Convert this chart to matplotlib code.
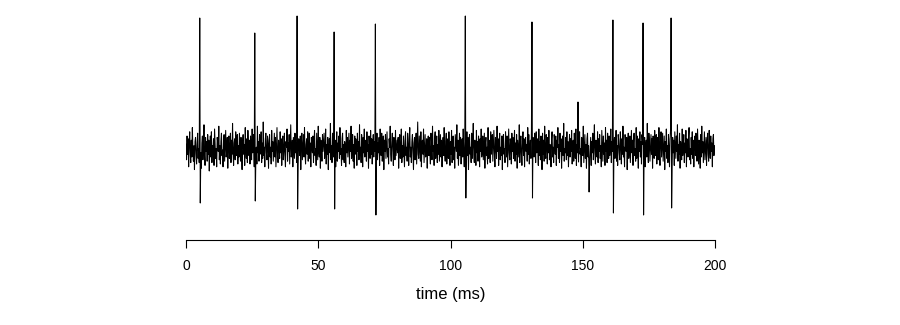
import matplotlib
matplotlib.use("Agg")
import matplotlib.pyplot as plt
import numpy as np

plt.rcParams['font.family'] = ['Liberation Sans', 'DejaVu Sans']

# sampling step of the trace (ms)
dt = 0.2
# noise below is written in small units; this converts it to the spike units
noise_scale = 1.4

# background noise, one value per sample
noise = [
    4, -7, 10, -3, 8, -12, 5, 13, -2, -9, 7, -5, 16, 1, -8, 3, -14, 6, 9, -3,
    -10, 4, 12, -6, 1, -9, 14, 8, -2, -13, 5, 10, -7, 2, 18, -4, -11, 9, -1, 6,
    -8, 11, -3, 7, -15, 2, 10, -5, 13, -9, 3, -2, 8, -11, 15, 4, -6, 1, -12, 9,
    5, -1, 17, -7, 3, -10, 6, 12, -4, 0, -12, 7, 11, -8, 3, 14, -5, -1, 9, -13,
    4, 10, -6, 2, 12, -9, 7, -3, 19, -2, -11, 5, 8, -7, 13, 1, -4, 11, -10, 3,
    -5, 12, 2, -8, 9, -1, -14, 6, 11, -3, 4, -11, 16, 0, -6, 8, -9, 14, 2, -4,
    7, -10, 10, 3, -7, 15, -2, -1, 11, -12, 5, 9, -5, 2, -10, 17, -2, 6, -8, 11,
    -3, 1, 13, -9, 5, -6, 20, -4, 2, -12, 8, 12, -2, -7, 10, 4, -13, 7, 11, -5,
    2, -10, 14, -1, 6, -8, 3, 12, -5, 9, -12, 1, 16, -3, -9, 7, 2, -6, 13, -2,
    8, -11, 4, 10, -7, 0, 12, -4, -12, 6, 2, 15, -8, 5, -1, 11, -10, 3, 18, -5,
    -1, 7, -12, 9, 2, -6, 12, -2, 5, -9, 14, 1, -11, 8, 3, -4, 10, -14, 6, 12,
    -7, 2, 11, -5, 16, -2, -10, 4, 8, -3, 13, -8, 0, 12, -6, 5, -12, 9, 2, -2,
    10, -9, 6, 14, -4, 1, -11, 12, 3, -7, 17, -1, -5, 9, -13, 7, 2, -8, 11, -1,
    5, 12, -6, 0, 15, -10, 4, -3, 9, -14, 2, 8, -2, 19, -7, 3, -9, 12, 1, -5,
    11, -4, 7, -12, 2, 13, -8, 5, -1, 10, -6, 16, -3, 1, -11, 8, 12, -7, 4, -9,
    6, 1, -12, 14, -2, 9, -5, 3, 12, -10, 7, -1, 17, -6, 0, 11, -8, 4, -13, 10,
    -3, 8, 2, -11, 12, -1, 6, -7, 18, -4, 2, -9, 11, 5, -12, 9, -2, 15, -5, 3,
    7, -8, 13, -1, 4, -13, 10, 1, -6, 14, -3, 8, -10, 2, 11, -5, 6, -1, 16, -9,
    1, 12, -7, 5, -2, 9, -11, 15, 0, -4, 12, -8, 3, 10, -14, 7, -1, 11, -6, 4,
    13, -5, 1, -10, 8, 2, 17, -3, -8, 6, 12, -1, -11, 9, 4, -7, 14, -4, 2, 7,
    -2, 9, -13, 4, 11, -6, 1, 15, -9, 3, -5, 10, -1, -12, 7, 13, -4, 2, -8, 12,
    3, -11, 8, 16, -5, 2, -9, 6, 11, -2, -14, 5, 9, -7, 1, 12, -10, 4, 20, -3,
    -6, 10, 1, -8, 13, -12, 4, 7, -3, 15, -9, 2, 11, -5, -1, 8, -13, 6, 10, -4,
    9, -2, -10, 12, 5, -7, 17, -1, 3, -11, 8, 13, -6, 0, 10, -9, 4, -3, 14, -8,
    2, 11, -5, 7, -12, 1, 9, -4, 16, -2, -8, 6, 12, -10, 3, 8, -6, 13, -1, -11,
    6, -3, 14, -9, 4, 10, -7, 2, -13, 11, 5, -1, 18, -6, 7, -11, 1, 12, -4, 9,
    -10, 3, 8, -5, 15, -2, -12, 6, 10, -8, 1, 13, -4, 9, -14, 5, 11, -3, 2, -9,
    12, -6, 4, 19, -3, -9, 7, 1, -11, 14, -2, 6, -8, 10, 3, -12, 8, -1, 15, -5,
    -1, 10, -7, 3, 12, -13, 5, 9, -4, 2, -10, 16, -6, 7, 1, -9, 13, -3, 6, 11,
    -8, 4, 14, -2, -12, 9, 3, -6, 17, -1, 8, -11, 5, 12, -7, 2, -4, 10, -14, 7,
    11, -3, 1, -9, 13, 6, -5, 10, -12, 3, 15, -2, -7, 8, 4, -10, 12, -1, 9, -6,
    2, 14, -8, 5, -3, 11, -13, 7, 1, -5, 18, -9, 3, 10, -2, -11, 6, 13, -4, 8,
    -12, 6, 9, -1, 4, -8, 16, -3, 11, -10, 2, 7, -6, 14, 0, -13, 9, 3, -5, 12,
    5, -9, 13, -2, 8, 1, -11, 15, -4, 6, -7, 10, 2, -14, 12, -3, 7, -8, 17, -1,
    -6, 11, 3, -10, 9, -2, 14, -7, 4, 1, -12, 8, 13, -5, 2, -9, 11, 6, -3, 10,
    -11, 7, 2, 16, -6, 4, -9, 12, -1, 8, -13, 3, 10, -4, 19, -8, 1, -2, 9, -7,
    13, -4, 6, -12, 2, 11, -5, 8, -1, 14, -10, 3, 7, -8, 12, 0, -6, 15, -11, 4,
    -2, 10, -7, 5, 13, -3, 1, -12, 9, 6, -4, 17, -9, 2, 11, -6, 4, -13, 8, 12,
    -5, 3, -30, -8, 1, 9, -11, 6, -2, 12, -7, 4, 18, -3, -10, 7, 2, -5, 13, -9,
    8, -1, 11, -6, 3, -12, 14, 2, -8, 10, -3, 5, -11, 16, -1, 7, -9, 12, 4, -6,
    10, -4, 2, 15, -9, 6, -1, 12, -13, 4, 9, -6, 1, 14, -8, 3, -11, 11, 7, -2,
    -7, 13, 5, -10, 8, -3, 17, -5, 2, -12, 11, 6, -1, 9, -14, 4, 12, -6, 1, 10,
    -9, 3, 14, -2, 7, -11, 5, 12, -4, 1, -8, 16, -6, 10, 2, -13, 8, -1, 13, -5,
    6, -10, 11, 4, -7, 15, -2, 9, -12, 3, 7, -5, 19, -1, -9, 12, 5, -8, 2, 11,
    -3, 8, -13, 10, 1, -6, 14, -4, 6, 11, -10, 3, 9, -7, 16, -2, -11, 7, 13, -5,
    4, 12, -8, 2, 10, -14, 6, -1, 15, -6, 3, -9, 11, 1, -12, 8, 14, -4, 5, -10,
    9, -2, 7, -11, 13, 3, -6, 10, -1, 18, -8, 4, -3, 12, -13, 6, 1, -7, 15, -4,
    2, 11, -9, 5, -2, 14, -12, 8, 3, -5, 10, 16, -7, 1, -10, 9, -3, 13, -6, 7,
    -12, 5, 10, -4, 12, -1, -8, 15, 2, -10, 7, 4, -13, 11, -5, 17, -2, 6, -9, 3,
    13, -7, 1, 9, -11, 6, 12, -3, -8, 14, 2, -6, 10, -1, 5, -12, 8, 11, -4, 3,
    -2,
]

# spikes: time (ms), peak and trough heights
spike_t = [5.3, 26.1, 42.0, 56.0, 71.5, 105.5, 130.8, 148.2, 161.4, 172.8, 183.4]
spike_peak = [132, 117, 134, 118, 126, 134, 128, 48, 130, 127, 132]
spike_trough = [-53, -51, -59, -59, -65, -48, -48, -12, -63, -65, -58]

t = np.arange(len(noise)) * dt
v = np.array(noise, dtype=float) * noise_scale
for st, pk, tr in zip(spike_t, spike_peak, spike_trough):
    i = int(round(st / dt))
    v[i] = pk
    v[i + 1] = tr

fig = plt.figure(figsize=(9, 3.25), dpi=100)
ax = fig.add_axes([186 / 900, 85 / 325, 529 / 900, 230 / 325])
ax.plot(t, v, color='black', lw=0.75)

ax.set_xlim(0, 200)
ax.set_ylim(-90, 140)
ax.margins(0)
for s in ['left', 'top', 'right']:
    ax.spines[s].set_visible(False)
ax.spines['bottom'].set_linewidth(0.8)
ax.set_yticks([])
ax.set_xticks([0, 50, 100, 150, 200])
ax.tick_params(axis='x', length=6, width=0.8, pad=8, labelsize=10)
ax.set_xlabel('time (ms)', fontsize=12, labelpad=10)

fig.savefig('out.png', dpi=100)
